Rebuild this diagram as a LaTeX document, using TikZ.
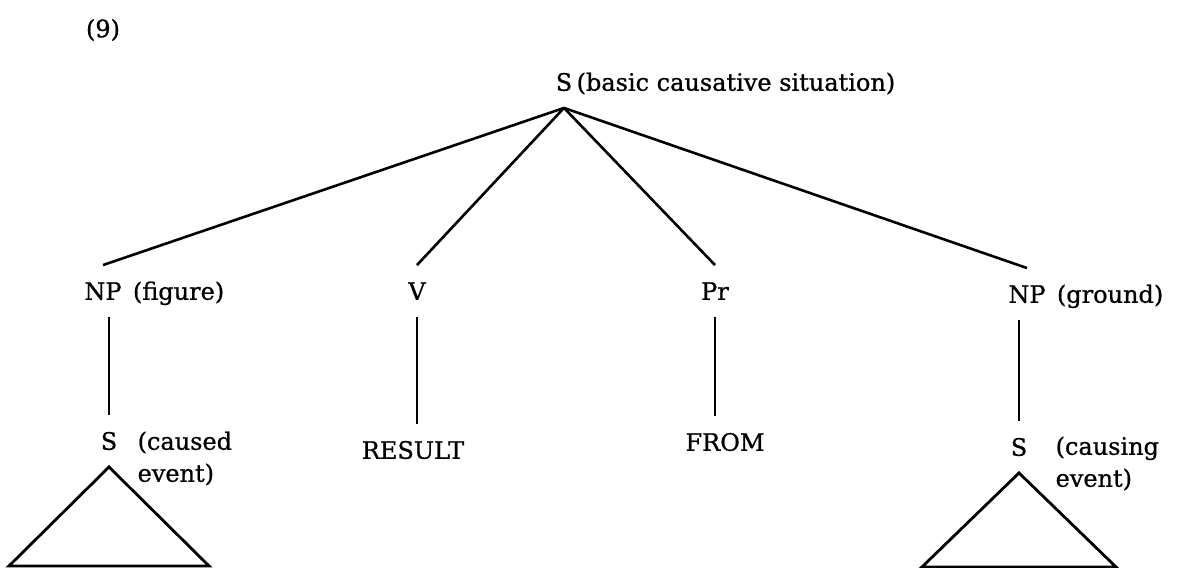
\documentclass[tikz,border=0pt]{standalone}
\usepackage{fontspec}
\setmainfont{DejaVu Serif}[FakeBold=0.8]
\tikzset{
  head/.style={inner xsep=1pt,inner ysep=17pt,text height=17.5pt,text depth=0pt},
  gloss/.style={inner sep=0pt,anchor=base west,align=left},
}
\begin{document}
\begin{tikzpicture}[x=1pt,y=-1pt,font=\fontsize{24}{32}\selectfont]
  \useasboundingbox (0,0) rectangle (1179,568);
  \node (num) at (103,30) {(9)};
  \node[head] (top) at (564,82) {S};
  \node[gloss] (topg) at ([xshift=3pt]top.base east) {(basic causative situation)};
  \foreach \n/\x/\y/\t in {npf/103/291/NP,vh/417/291/V,prh/715/291/Pr,npg/1027/294/NP,scf/109/441/S,res/413/450/RESULT,frm/725/442/FROM,scg/1019/447/S} {
    \node[head] (\n) at (\x,\y) {\t};
  }
  \node[gloss] (npfg) at ([xshift=10pt]npf.base east) {(figure)};
  \node[gloss] (npgg) at ([xshift=10pt]npg.base east) {(ground)};
  \node[gloss] (scfg) at ([xshift=19pt,yshift=-32pt]scf.base east) {(caused\\event)};
  \node[gloss] (scgg) at ([xshift=27pt,yshift=-31pt]scg.base east) {(causing\\event)};
  \foreach \n in {npf,vh,prh,npg} {
    \draw[line width=2.6pt] (top.south) -- (\n.north);
  }
  \draw[line width=2pt] (scf.north |- npf.south) -- (scf.north);
  \draw[line width=2pt] (vh.south) -- (vh.south |- res.north);
  \draw[line width=2pt] (prh.south) -- (prh.south |- frm.north);
  \draw[line width=2pt] (scg.north |- npg.south) -- (scg.north);
  \draw[line width=2.8pt] (scf.south) -- ++(-100,99) -- ++(200,0) -- cycle;
  \draw[line width=2.8pt] (scg.south) -- ++(-97,94) -- ++(194,0) -- cycle;
\end{tikzpicture}
\end{document}
